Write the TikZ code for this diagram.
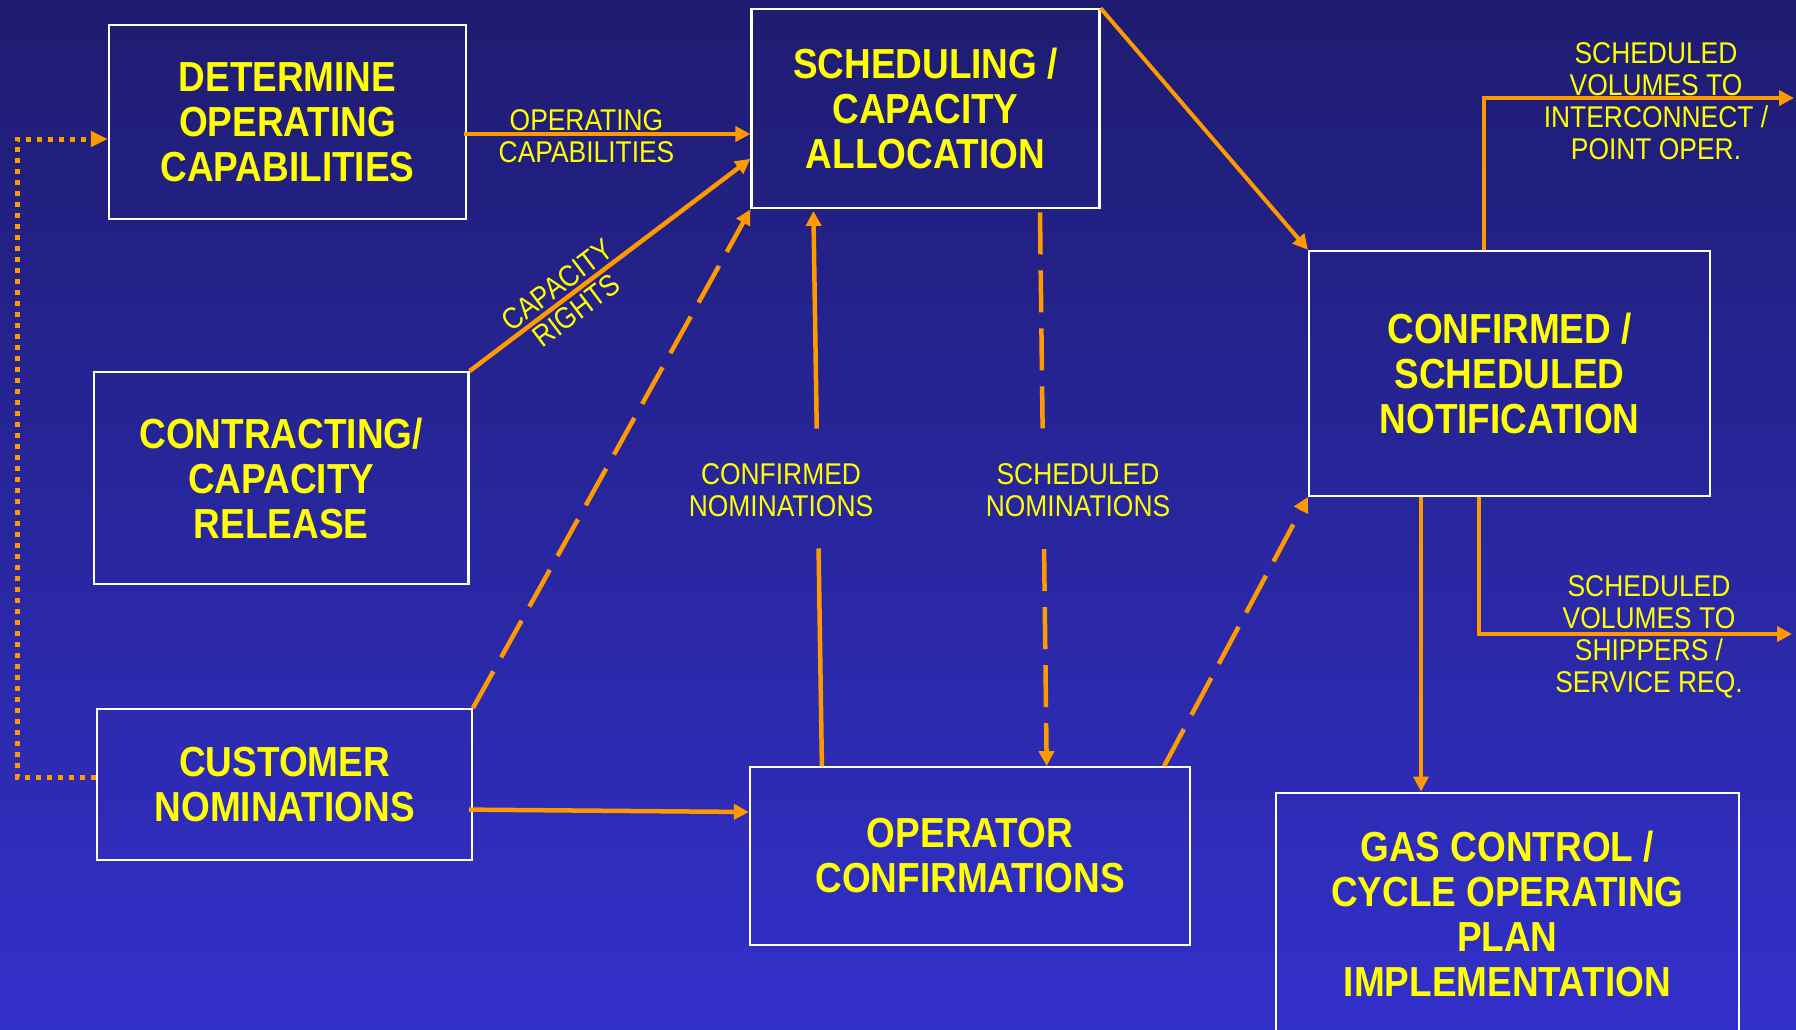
\documentclass[tikz,border=0pt]{standalone}
\usepackage{fontspec}
\setmainfont{Liberation Sans}[FakeStretch=0.88]
\usetikzlibrary{arrows.meta,calc}
\definecolor{bgtop}{RGB}{30,28,112}
\definecolor{bgbot}{RGB}{50,48,202}
\definecolor{flow}{RGB}{255,153,0}
\definecolor{txt}{RGB}{255,255,0}
\tikzset{
  box/.style={draw=white, line width=2.2pt, align=center, text=txt,
    font=\fontsize{42}{45}\selectfont\bfseries, inner sep=0pt},
  lbl/.style={align=center, text=txt, font=\fontsize{30}{32}\selectfont, inner sep=0pt},
  flowline/.style={draw=flow, line width=4.5pt},
  tip/.style={-{Triangle[length=15pt,width=15pt]}},
  dashline/.style={flowline, dash pattern=on 42pt off 16pt},
  dotline/.style={draw=flow, line width=5pt, dash pattern=on 5pt off 6pt}
}
\begin{document}
\begin{tikzpicture}[x=1pt,y=-1pt]
\useasboundingbox (0,0) rectangle (1796,1029);
\shade[top color=bgtop, bottom color=bgbot] (0,0) rectangle (1796,1029);

% boxes
\node[box, minimum width=357pt, minimum height=194pt] (det) at (287.5,122) {DETERMINE\\OPERATING\\CAPABILITIES};
\node[box, minimum width=348pt, minimum height=199pt] (sched) at (925.5,108.8) {SCHEDULING /\\CAPACITY\\ALLOCATION};
\node[box, minimum width=374.6pt, minimum height=212pt] (contr) at (281.2,478.2) {CONTRACTING/\\CAPACITY\\RELEASE};
\node[box, minimum width=374.5pt, minimum height=151pt] (cust) at (284.6,784.6) {CUSTOMER\\NOMINATIONS};
\node[box, minimum width=440pt, minimum height=177.6pt] (oper) at (970,856) {OPERATOR\\CONFIRMATIONS};
\node[box, minimum width=401pt, minimum height=245pt] (notif) at (1509.6,373.4) {CONFIRMED /\\SCHEDULED\\NOTIFICATION};
\node[box, minimum width=462.7pt, minimum height=241.8pt] (gas) at (1507.3,913.5) {GAS CONTROL /\\CYCLE OPERATING\\PLAN\\IMPLEMENTATION};

% operating capabilities
\draw[flowline, tip] ($(det.east)+(-3,12)$) -- ($(sched.west)+(0,25.2)$);
\node[lbl] (lopcap) at (586.5,136) {OPERATING\\CAPABILITIES};

% capacity rights
\draw[flowline, tip] (contr.north east) -- node[lbl, pos=0.346, sloped] (lcaprights) {CAPACITY\\RIGHTS} ($(sched.west)+(0,50)$);

% customer nominations dashed to scheduling
\draw[dashline, tip] (cust.north east) -- (sched.south west);

% customer -> operator
\draw[flowline, tip] ($(cust.east)+(-4,25)$) -- ($(oper.west)+(0,-44)$);

% confirmed nominations (operator -> scheduling)
\coordinate (cnA) at ($(oper.north west)+(73,0)$);
\coordinate (cnB) at ($(sched.south west)+(63,1.5)$);
\draw[flowline] (cnA) -- ($(cnA)!0.392!(cnB)$);
\draw[flowline, tip] ($(cnA)!0.608!(cnB)$) -- (cnB);
\node[lbl] (lconf) at (781,490) {CONFIRMED\\NOMINATIONS};

% scheduled nominations (scheduling -> operator)
\coordinate (snA) at ($(sched.south west)+(289.6,3)$);
\coordinate (snB) at ($(oper.north west)+(297.8,0)$);
\draw[dashline] (snA) -- ($(snA)!0.394!(snB)$);
\draw[dashline, tip] ($(snA)!0.608!(snB)$) -- (snB);
\node[lbl] (lschn) at (1078,490) {SCHEDULED\\NOMINATIONS};

% scheduling -> notification
\draw[flowline, line width=4pt, tip] (sched.north east) -- (notif.north west);

% operator -> notification dashed
\draw[dashline, tip] ($(oper.north east)+(-27,0)$) -- (notif.south west);

% notification -> interconnect
\coordinate (out1) at (1794,98);
\draw[flowline, tip] ($(notif.north west)+(176,0)$) |- (out1);
\node[lbl] (lint) at (1656,101) {SCHEDULED\\VOLUMES TO\\INTERCONNECT /\\POINT OPER.};

% notification -> gas control
\coordinate (n1) at ($(notif.south west)+(113,0)$);
\draw[flowline, line width=4pt, tip] (n1) -- (n1 |- gas.north);

% notification -> shippers
\coordinate (n2) at ($(notif.south west)+(171,0)$);
\coordinate (out2) at (1792,634);
\draw[flowline, tip] (n2) |- (out2);
\node[lbl] (lship) at (1649,636.5) {SCHEDULED\\VOLUMES TO\\SHIPPERS /\\SERVICE REQ.};

% dotted feedback customer -> determine
\coordinate (dotx) at (17,0);
\coordinate (dstart) at ($(cust.west)+(0,-7.6)$);
\draw[dotline, -{Triangle[length=17pt,width=15pt]}] (dstart) -- (dstart -| dotx) |- ($(det.west)+(0,17)$);
\end{tikzpicture}
\end{document}
